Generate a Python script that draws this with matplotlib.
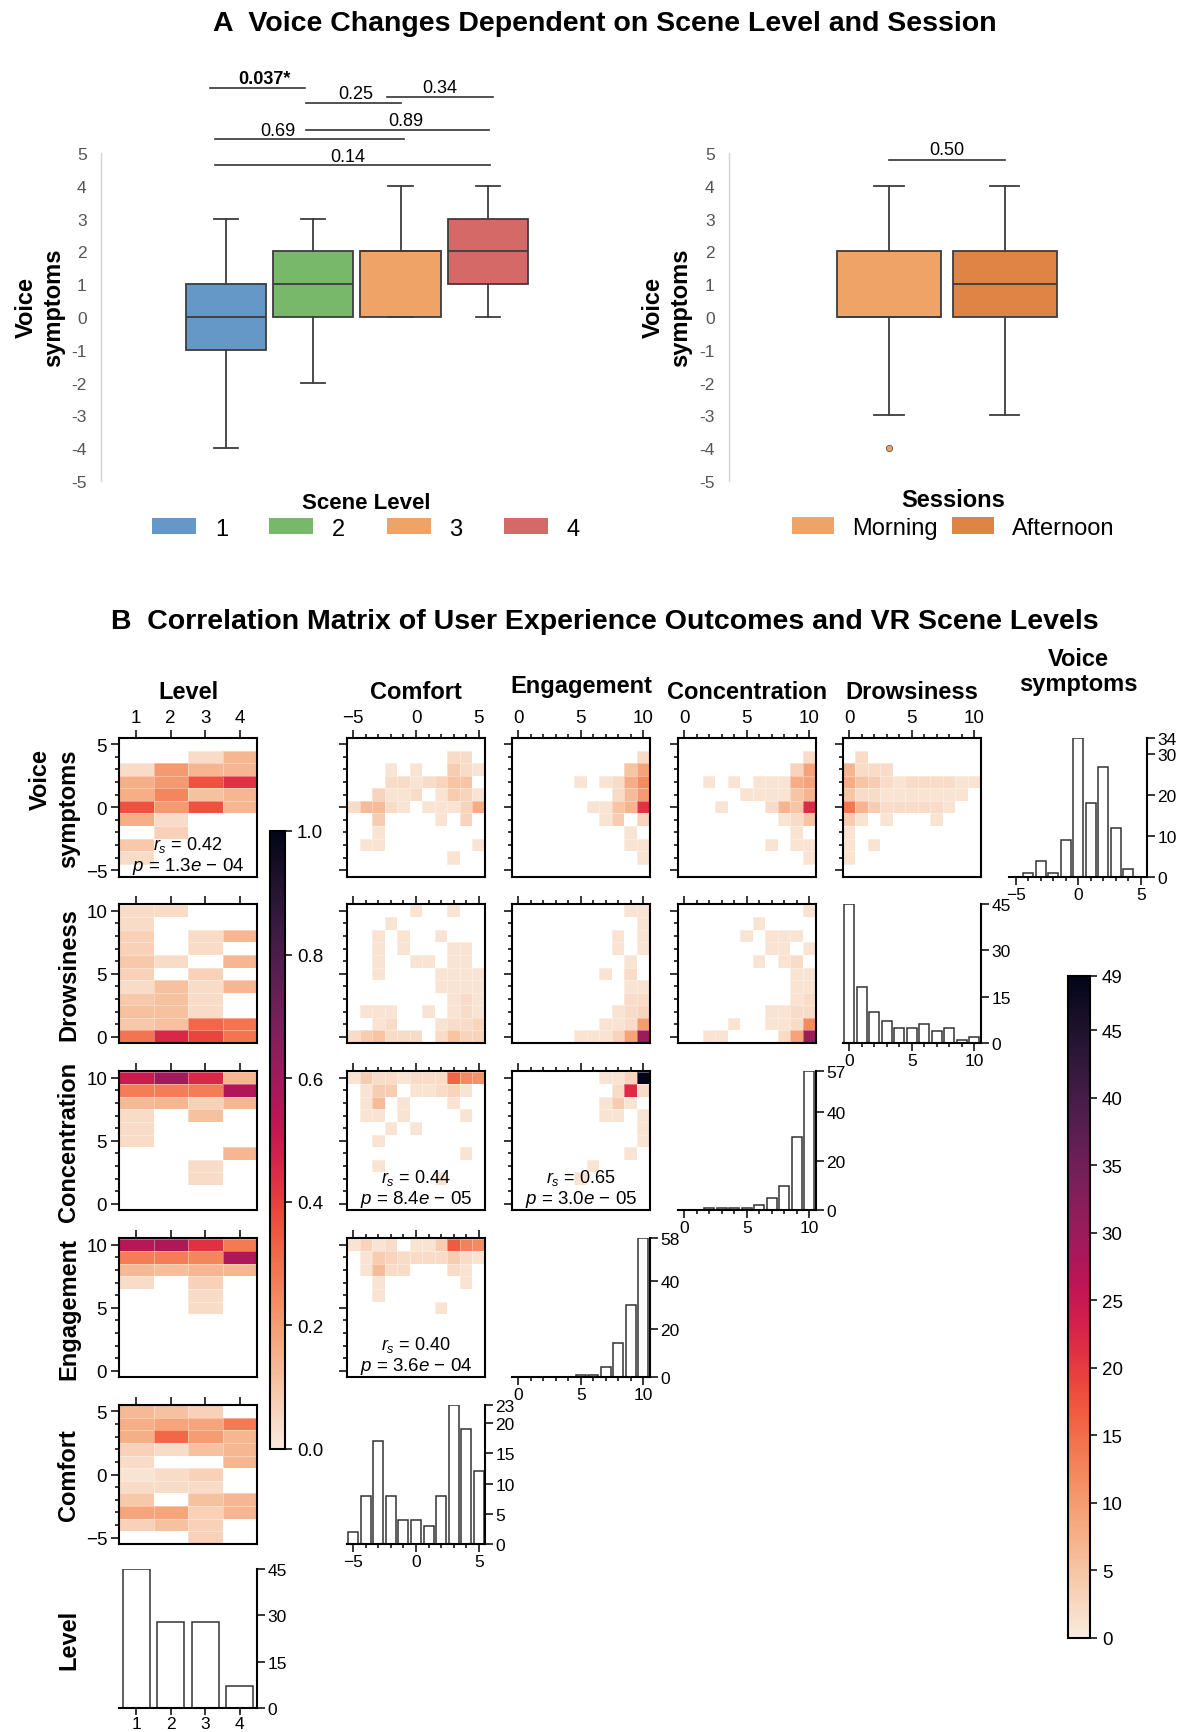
import numpy as np
import matplotlib
matplotlib.use("Agg")
import matplotlib.pyplot as plt
from matplotlib.patches import Patch
from matplotlib.colors import Normalize, LinearSegmentedColormap
from matplotlib.cm import ScalarMappable
from matplotlib.ticker import MultipleLocator, FixedLocator

plt.rcParams['font.family'] = ['Liberation Sans', 'DejaVu Sans']
plt.rcParams['mathtext.fontset'] = 'custom'
plt.rcParams['mathtext.rm'] = 'Liberation Sans'
plt.rcParams['mathtext.it'] = 'Liberation Sans:italic'
plt.rcParams['mathtext.bf'] = 'Liberation Sans:bold'

try:
    import seaborn as sns
    cmap = sns.color_palette("rocket_r", as_cmap=True).copy()
except Exception:
    cmap = LinearSegmentedColormap.from_list(
        "rocket_r", ["#faebdd", "#f6b48e", "#f37651", "#e13342",
                     "#b51a58", "#781f5e", "#3f1b44", "#03051a"])
cmap.set_bad("white")

# ---------------- data: panel A ----------------
level_names = ['1', '2', '3', '4']
level_colors = ['#6598c6', '#78b86a', '#f0a366', '#d56967']
level_whislo = [-4, -2, 0, 0]
level_q1 = [-1, 0, 0, 1]
level_med = [0, 1, 2, 2]
level_q3 = [1, 2, 2, 3]
level_whishi = [3, 3, 4, 4]

session_names = ['Morning', 'Afternoon']
session_colors = ['#f0a366', '#e08446']
session_whislo = [-3, -3]
session_q1 = [0, 0]
session_med = [0, 1]
session_q3 = [2, 2]
session_whishi = [4, 4]
session_fliers = [[-4], []]

level_pvals = ['0.037*', '0.25', '0.34', '0.89', '0.69', '0.14']
level_pbold = [True, False, False, False, False, False]
session_pval = '0.50'

# ---------------- data: panel B ----------------
levels = [1, 2, 3, 4]
voice_rows = [4, 3, 2, 1, 0, -1, -2, -3, -4]
score_rows = [10, 9, 8, 7, 6, 5, 4, 3, 2, 1, 0]
comfort_rows = [5, 4, 3, 2, 1, 0, -1, -2, -3, -4, -5]
score_cols = list(range(0, 11))
comfort_cols = list(range(-5, 6))

# share of each scene level (columns 1..4)
lvl_voice = [
    [0.00, 0.00, 0.04, 0.14],
    [0.04, 0.21, 0.14, 0.14],
    [0.16, 0.21, 0.36, 0.43],
    [0.16, 0.25, 0.11, 0.14],
    [0.36, 0.21, 0.36, 0.14],
    [0.16, 0.04, 0.00, 0.00],
    [0.00, 0.07, 0.00, 0.00],
    [0.09, 0.00, 0.00, 0.00],
    [0.04, 0.00, 0.00, 0.00],
]
lvl_drow = [
    [0.04, 0.04, 0.00, 0.00],
    [0.04, 0.00, 0.00, 0.00],
    [0.07, 0.00, 0.04, 0.14],
    [0.07, 0.00, 0.04, 0.00],
    [0.09, 0.04, 0.00, 0.14],
    [0.07, 0.00, 0.07, 0.00],
    [0.04, 0.11, 0.04, 0.14],
    [0.09, 0.11, 0.04, 0.00],
    [0.11, 0.11, 0.04, 0.00],
    [0.09, 0.11, 0.32, 0.29],
    [0.29, 0.46, 0.39, 0.29],
]
lvl_conc = [
    [0.50, 0.60, 0.46, 0.14],
    [0.27, 0.27, 0.27, 0.57],
    [0.13, 0.14, 0.07, 0.14],
    [0.04, 0.00, 0.11, 0.00],
    [0.04, 0.00, 0.00, 0.00],
    [0.04, 0.00, 0.00, 0.00],
    [0.00, 0.00, 0.00, 0.14],
    [0.00, 0.00, 0.04, 0.00],
    [0.00, 0.00, 0.04, 0.00],
    [0.00, 0.00, 0.00, 0.00],
    [0.00, 0.00, 0.00, 0.00],
]
lvl_eng = [
    [0.55, 0.57, 0.43, 0.28],
    [0.27, 0.27, 0.25, 0.57],
    [0.13, 0.12, 0.14, 0.14],
    [0.04, 0.00, 0.07, 0.00],
    [0.00, 0.00, 0.04, 0.00],
    [0.00, 0.00, 0.04, 0.00],
    [0.00, 0.00, 0.00, 0.00],
    [0.00, 0.00, 0.00, 0.00],
    [0.00, 0.00, 0.00, 0.00],
    [0.00, 0.00, 0.00, 0.00],
    [0.00, 0.00, 0.00, 0.00],
]
lvl_comf = [
    [0.13, 0.11, 0.07, 0.00],
    [0.16, 0.18, 0.18, 0.28],
    [0.16, 0.32, 0.20, 0.14],
    [0.07, 0.04, 0.11, 0.14],
    [0.04, 0.00, 0.00, 0.14],
    [0.02, 0.04, 0.07, 0.00],
    [0.04, 0.04, 0.04, 0.00],
    [0.09, 0.00, 0.11, 0.14],
    [0.18, 0.18, 0.07, 0.14],
    [0.07, 0.11, 0.07, 0.00],
    [0.00, 0.00, 0.07, 0.00],
]

# counts
comf_voice = [
    [0, 0, 0, 0, 0, 0, 0, 0, 2, 2, 0],
    [0, 0, 0, 1, 0, 1, 0, 0, 4, 2, 1],
    [0, 0, 0, 2, 2, 1, 2, 3, 5, 5, 0],
    [0, 0, 3, 1, 1, 2, 0, 1, 4, 3, 1],
    [2, 6, 6, 2, 1, 0, 1, 1, 1, 3, 8],
    [0, 0, 4, 0, 0, 0, 0, 1, 0, 3, 0],
    [0, 0, 1, 0, 0, 0, 0, 0, 0, 0, 0],
    [0, 1, 1, 0, 0, 0, 0, 0, 0, 0, 1],
    [0, 0, 0, 0, 0, 0, 0, 0, 1, 0, 0],
]
eng_voice = [
    [0, 0, 0, 0, 0, 0, 0, 0, 0, 0, 2],
    [0, 0, 0, 0, 0, 0, 0, 0, 0, 5, 9],
    [0, 0, 0, 0, 0, 1, 0, 1, 2, 8, 12],
    [0, 0, 0, 0, 0, 0, 0, 0, 2, 6, 10],
    [0, 0, 0, 0, 0, 0, 1, 1, 5, 7, 21],
    [0, 0, 0, 0, 0, 0, 0, 1, 4, 0, 3],
    [0, 0, 0, 0, 0, 0, 0, 0, 0, 1, 0],
    [0, 0, 0, 0, 0, 0, 0, 0, 0, 1, 1],
    [0, 0, 0, 0, 0, 0, 0, 0, 0, 0, 1],
]
conc_voice = [
    [0, 0, 0, 0, 0, 0, 0, 0, 0, 0, 2],
    [0, 0, 0, 0, 0, 0, 0, 0, 0, 3, 9],
    [0, 0, 1, 0, 1, 0, 1, 1, 1, 8, 9],
    [0, 0, 0, 0, 0, 1, 1, 1, 1, 5, 7],
    [0, 0, 0, 1, 0, 0, 0, 2, 7, 5, 22],
    [0, 0, 0, 0, 0, 0, 0, 0, 1, 2, 5],
    [0, 0, 0, 0, 0, 0, 0, 0, 0, 1, 0],
    [0, 0, 0, 0, 0, 0, 0, 1, 0, 1, 1],
    [0, 0, 0, 0, 0, 0, 0, 0, 0, 0, 1],
]
drow_voice = [
    [0, 2, 0, 0, 0, 0, 0, 0, 0, 0, 0],
    [7, 2, 2, 2, 0, 0, 0, 0, 0, 0, 0],
    [8, 5, 4, 2, 1, 2, 2, 2, 2, 1, 1],
    [5, 2, 2, 1, 1, 1, 1, 1, 1, 1, 0],
    [14, 7, 4, 2, 2, 2, 2, 2, 1, 0, 0],
    [4, 1, 0, 1, 0, 0, 0, 1, 0, 0, 0],
    [1, 0, 0, 0, 0, 0, 0, 0, 0, 0, 0],
    [1, 0, 1, 0, 0, 0, 0, 0, 0, 0, 0],
    [1, 0, 0, 0, 0, 0, 0, 0, 0, 0, 0],
]
comf_drow = [
    [0, 0, 0, 0, 0, 1, 0, 0, 1, 0, 0],
    [0, 0, 0, 1, 0, 0, 0, 0, 0, 0, 0],
    [0, 0, 1, 0, 1, 0, 0, 1, 0, 0, 0],
    [0, 0, 1, 0, 1, 0, 0, 0, 1, 1, 0],
    [0, 0, 1, 0, 0, 1, 1, 0, 1, 1, 0],
    [0, 0, 1, 0, 0, 0, 0, 1, 1, 1, 1],
    [0, 0, 0, 0, 0, 0, 0, 1, 1, 1, 1],
    [0, 0, 0, 0, 0, 0, 0, 0, 1, 2, 1],
    [0, 1, 1, 1, 0, 0, 1, 0, 1, 2, 1],
    [0, 0, 1, 2, 0, 0, 0, 1, 2, 2, 3],
    [2, 4, 5, 2, 2, 2, 0, 2, 5, 3, 3],
]
eng_drow = [
    [0, 0, 0, 0, 0, 0, 0, 0, 0, 1, 1],
    [0, 0, 0, 0, 0, 0, 0, 0, 0, 0, 1],
    [0, 0, 0, 0, 0, 0, 0, 0, 1, 0, 1],
    [0, 0, 0, 0, 0, 0, 0, 0, 1, 0, 1],
    [0, 0, 0, 0, 0, 0, 0, 0, 0, 1, 0],
    [0, 0, 0, 0, 0, 0, 0, 1, 0, 2, 0],
    [0, 0, 0, 0, 0, 0, 0, 0, 0, 1, 1],
    [0, 0, 0, 0, 0, 0, 0, 0, 0, 2, 2],
    [0, 0, 0, 0, 0, 0, 0, 0, 1, 2, 3],
    [0, 0, 0, 0, 0, 0, 0, 1, 1, 2, 10],
    [0, 0, 0, 0, 0, 1, 1, 1, 3, 9, 30],
]
conc_drow = [
    [0, 0, 0, 0, 0, 0, 0, 0, 0, 0, 1],
    [0, 0, 0, 0, 0, 0, 1, 0, 0, 0, 0],
    [0, 0, 0, 0, 0, 1, 0, 1, 1, 1, 0],
    [0, 0, 0, 0, 0, 0, 0, 1, 1, 0, 1],
    [0, 0, 0, 0, 0, 0, 1, 0, 1, 2, 0],
    [0, 0, 0, 0, 0, 0, 0, 0, 0, 1, 1],
    [0, 0, 0, 0, 0, 0, 0, 0, 0, 1, 1],
    [0, 0, 0, 0, 0, 0, 0, 0, 0, 1, 2],
    [0, 0, 0, 0, 0, 0, 0, 1, 1, 2, 2],
    [0, 0, 0, 0, 1, 0, 0, 1, 1, 2, 12],
    [0, 0, 1, 1, 0, 0, 0, 0, 2, 9, 30],
]
comf_conc = [
    [1, 4, 2, 2, 1, 2, 2, 2, 16, 12, 11],
    [0, 1, 4, 4, 0, 1, 1, 2, 3, 1, 0],
    [0, 1, 6, 0, 1, 0, 0, 0, 1, 0, 0],
    [0, 1, 1, 0, 1, 0, 0, 0, 0, 1, 0],
    [0, 0, 0, 1, 0, 1, 0, 0, 0, 0, 0],
    [0, 0, 1, 0, 0, 0, 0, 0, 0, 0, 0],
    [0, 0, 0, 0, 0, 0, 0, 0, 0, 1, 0],
    [0, 0, 1, 0, 0, 0, 0, 0, 0, 0, 0],
    [0, 0, 0, 0, 0, 0, 0, 1, 0, 0, 0],
    [0, 0, 0, 0, 0, 0, 0, 0, 0, 0, 0],
    [0, 0, 0, 0, 0, 0, 0, 0, 0, 0, 0],
]
eng_conc = [
    [0, 0, 0, 0, 0, 0, 0, 1, 1, 3, 49],
    [0, 0, 0, 0, 0, 0, 0, 0, 2, 22, 2],
    [0, 0, 0, 0, 0, 0, 0, 1, 4, 1, 0],
    [0, 0, 0, 0, 0, 0, 0, 1, 1, 0, 1],
    [0, 0, 0, 0, 0, 0, 0, 0, 0, 0, 1],
    [0, 0, 0, 0, 0, 0, 0, 0, 0, 0, 1],
    [0, 0, 0, 0, 0, 0, 0, 0, 0, 1, 0],
    [0, 0, 0, 0, 0, 0, 1, 0, 0, 0, 0],
    [0, 0, 0, 0, 0, 1, 0, 0, 0, 0, 0],
    [0, 0, 0, 0, 0, 0, 0, 0, 0, 0, 0],
    [0, 0, 0, 0, 0, 0, 0, 0, 0, 0, 0],
]
comf_eng = [
    [1, 3, 1, 2, 0, 1, 1, 4, 17, 13, 12],
    [0, 1, 4, 3, 2, 2, 2, 2, 4, 2, 1],
    [0, 1, 6, 2, 2, 0, 0, 0, 2, 1, 0],
    [0, 0, 1, 0, 0, 0, 0, 0, 0, 1, 0],
    [0, 0, 1, 0, 0, 0, 0, 0, 0, 0, 0],
    [0, 0, 0, 0, 0, 0, 0, 1, 0, 0, 0],
    [0, 0, 0, 0, 0, 0, 0, 0, 0, 0, 0],
    [0, 0, 0, 0, 0, 0, 0, 0, 0, 0, 0],
    [0, 0, 0, 0, 0, 0, 0, 0, 0, 0, 0],
    [0, 0, 0, 0, 0, 0, 0, 0, 0, 0, 0],
    [0, 0, 0, 0, 0, 0, 0, 0, 0, 0, 0],
]

# marginal histograms
voice_bins = [-4, -3, -2, -1, 0, 1, 2, 3, 4]
voice_counts = [1, 4, 1, 9, 34, 18, 27, 12, 2]
drow_counts = [45, 18, 10, 7, 5, 5, 6, 4, 5, 1, 2]
conc_counts = [0, 0, 1, 1, 1, 1, 2, 5, 10, 30, 57]
eng_counts = [0, 0, 0, 0, 0, 1, 1, 4, 14, 30, 58]
comf_counts = [2, 8, 17, 8, 4, 4, 3, 8, 23, 19, 12]
level_counts = [45, 28, 28, 7]

# spearman annotations: (row, col, r_s, p mantissa, p exponent)
corr_notes = [(0, 0, '0.42', '1.3', '04'), (2, 1, '0.44', '8.4', '05'),
              (2, 2, '0.65', '3.0', '05'), (3, 1, '0.40', '3.6', '04')]

row_vars = ['Voice', 'Drowsiness', 'Concentration', 'Engagement', 'Comfort', 'Level']
col_vars = ['Level', 'Comfort', 'Engagement', 'Concentration', 'Drowsiness', 'Voice']
var_label = {'Voice': 'Voice\nsymptoms', 'Drowsiness': 'Drowsiness',
             'Concentration': 'Concentration', 'Engagement': 'Engagement',
             'Comfort': 'Comfort', 'Level': 'Level'}

# ---------------- figure ----------------
W, H = 1181, 1733
fig = plt.figure(figsize=(W / 100, H / 100), dpi=100)
fig.patch.set_facecolor('white')


def add_px(left, top, w, h):
    return fig.add_axes([left / W, 1 - (top + h) / H, w / W, h / H])


fig.text(605 / W, 1 - 24 / H, 'A  Voice Changes Dependent on Scene Level and Session',
         ha='center', va='center', fontsize=20.5, weight='bold')
fig.text(605 / W, 1 - 622 / H,
         'B  Correlation Matrix of User Experience Outcomes and VR Scene Levels',
         ha='center', va='center', fontsize=20.5, weight='bold')

EDGE = '#3d3d3d'


def make_stats(lo, q1, med, q3, hi, fl=None):
    return [dict(whislo=lo[i], q1=q1[i], med=med[i], q3=q3[i], whishi=hi[i],
                 fliers=(fl[i] if fl else [])) for i in range(len(lo))]


def style_box_axes(ax, xlim):
    ax.set_xlim(*xlim)
    ax.set_ylim(-5.2, 7.6)
    for s in ['top', 'right', 'bottom']:
        ax.spines[s].set_visible(False)
    ax.spines['left'].set_color('#d4d4d4')
    ax.spines['left'].set_linewidth(1.0)
    ax.spines['left'].set_bounds(-5, 5)
    ax.set_xticks([])
    ticks = list(range(-5, 6))
    ax.set_yticks(ticks)
    ax.set_yticklabels([str(t) for t in ticks])
    ax.tick_params(axis='y', length=0, pad=10, labelsize=12.5, labelcolor='#555555')


box_kw = dict(patch_artist=True, manage_ticks=False,
              boxprops=dict(edgecolor=EDGE, linewidth=1.3),
              medianprops=dict(color=EDGE, linewidth=1.3),
              whiskerprops=dict(color=EDGE, linewidth=1.3),
              capprops=dict(color=EDGE, linewidth=1.3))

# left boxplot
axL = add_px(100.6, 68.7, 531.4, 419.9)
bp = axL.bxp(make_stats(level_whislo, level_q1, level_med, level_q3, level_whishi),
             positions=range(len(level_names)), widths=0.92, capwidths=0.28,
             showfliers=False, **box_kw)
for patch, c in zip(bp['boxes'], level_colors):
    patch.set_facecolor(c)
style_box_axes(axL, (-1.432, 4.648))

sig_lines = [(-0.18, 0.91, 6.98), (0.92, 2.01, 6.53), (1.84, 3.06, 6.70),
             (0.92, 3.01, 5.70), (-0.12, 2.04, 5.42), (-0.12, 3.02, 4.64)]
sig_text = [(0.44, 7.13), (1.49, 6.67), (2.45, 6.85), (2.06, 5.85), (0.60, 5.55), (1.40, 4.77)]
for (x1, x2, y), (tx, ty), lab, b in zip(sig_lines, sig_text, level_pvals, level_pbold):
    axL.plot([x1, x2], [y, y], color='#333333', lw=1.2, clip_on=False)
    axL.text(tx, ty, lab, ha='center', va='baseline', fontsize=13,
             weight='bold' if b else 'normal')

fig.text(40 / W, 1 - 308 / H, 'Voice\nsymptoms', rotation=90, ha='center', va='center',
         fontsize=17, weight='bold', linespacing=1.25)

axL.legend(handles=[Patch(facecolor=c, edgecolor='none') for c in level_colors],
           labels=level_names, title='Scene Level', ncol=4, loc='upper center',
           bbox_to_anchor=(366 / W, 1 - 481 / H), bbox_transform=fig.transFigure,
           frameon=False, fontsize=17, title_fontproperties={'weight': 'bold', 'size': 16},
           handlelength=1.86, handleheight=0.68, handletextpad=0.8, columnspacing=1.75,
           borderpad=0, labelspacing=0.2)

# right boxplot
axR = add_px(728.5, 68.7, 446.5, 419.9)
bp = axR.bxp(make_stats(session_whislo, session_q1, session_med, session_q3,
                        session_whishi, session_fliers),
             positions=range(len(session_names)), widths=0.895, capwidths=0.255,
             showfliers=True,
             flierprops=dict(marker='o', markersize=4.5, markerfacecolor='#f0a366',
                             markeredgecolor='#555555', markeredgewidth=0.6),
             **box_kw)
for patch, c in zip(bp['boxes'], session_colors):
    patch.set_facecolor(c)
style_box_axes(axR, (-1.384, 2.47))
axR.plot([0, 1], [4.80, 4.80], color='#333333', lw=1.2, clip_on=False)
axR.text(0.5, 4.97, session_pval, ha='center', va='baseline', fontsize=13)

fig.text(667 / W, 1 - 308 / H, 'Voice\nsymptoms', rotation=90, ha='center', va='center',
         fontsize=17, weight='bold', linespacing=1.25)

axR.legend(handles=[Patch(facecolor=c, edgecolor='none') for c in session_colors],
           labels=session_names, title='Sessions', ncol=2, loc='upper center',
           bbox_to_anchor=(953 / W, 1 - 477 / H), bbox_transform=fig.transFigure,
           frameon=False, fontsize=17, title_fontproperties={'weight': 'bold', 'size': 17},
           handlelength=1.8, handleheight=0.68, handletextpad=0.75, columnspacing=0.6,
           borderpad=0, labelspacing=0.25)

# ---------------- panel B ----------------
col_left = [119, 347, 512, 678, 843, 1009]
row_top = [739, 905, 1072, 1239, 1406, 1570]
CW, RH = 138, 139

axis_cfg = {
    'Level': dict(lim=(0.5, 4.5), major=[1, 2, 3, 4], minor=False),
    'Comfort': dict(lim=(-5.5, 5.5), major=[-5, 0, 5], minor=True),
    'Voice': dict(lim=(-5.55, 5.5), major=[-5, 0, 5], minor=True),
    'Engagement': dict(lim=(-0.5, 10.55), major=[0, 5, 10], minor=True),
    'Concentration': dict(lim=(-0.5, 10.55), major=[0, 5, 10], minor=True),
    'Drowsiness': dict(lim=(-0.5, 10.55), major=[0, 5, 10], minor=True),
}

heat_cells = {
    (0, 0): (lvl_voice, levels, voice_rows, 1.0),
    (0, 1): (comf_voice, comfort_cols, voice_rows, 49),
    (0, 2): (eng_voice, score_cols, voice_rows, 49),
    (0, 3): (conc_voice, score_cols, voice_rows, 49),
    (0, 4): (drow_voice, score_cols, voice_rows, 49),
    (1, 0): (lvl_drow, levels, score_rows, 1.0),
    (1, 1): (comf_drow, comfort_cols, score_rows, 49),
    (1, 2): (eng_drow, score_cols, score_rows, 49),
    (1, 3): (conc_drow, score_cols, score_rows, 49),
    (2, 0): (lvl_conc, levels, score_rows, 1.0),
    (2, 1): (comf_conc, comfort_cols, score_rows, 49),
    (2, 2): (eng_conc, score_cols, score_rows, 49),
    (3, 0): (lvl_eng, levels, score_rows, 1.0),
    (3, 1): (comf_eng, comfort_cols, score_rows, 49),
    (4, 0): (lvl_comf, levels, comfort_rows, 1.0),
}

hist_cells = {
    (0, 5): (voice_bins, voice_counts, [0, 10, 20, 30, 34]),
    (1, 4): (score_cols, drow_counts, [0, 15, 30, 45]),
    (2, 3): (score_cols, conc_counts, [0, 20, 40, 57]),
    (3, 2): (score_cols, eng_counts, [0, 20, 40, 58]),
    (4, 1): (comfort_cols, comf_counts, [0, 5, 10, 15, 20, 23]),
    (5, 0): (levels, level_counts, [0, 15, 30, 45]),
}

TICK = 13.5
HTICK = 12.5


def set_axis(axis, var):
    cfg = axis_cfg[var]
    axis.set_major_locator(FixedLocator(cfg['major']))
    if cfg['minor']:
        axis.set_minor_locator(MultipleLocator(1))


for (r, c), (mat, xs, ys, vmax) in heat_cells.items():
    ax = add_px(col_left[c], row_top[r], CW, RH)
    z = np.ma.masked_equal(np.asarray(mat, float), 0)
    xe = np.append(np.asarray(xs, float) - 0.5, xs[-1] + 0.5)
    ye = np.append(ys[0] + 0.5, np.asarray(ys, float) - 0.5)
    ax.pcolormesh(xe, ye, z, cmap=cmap, vmin=0, vmax=vmax,
                  edgecolors=(1, 1, 1, 0.35), linewidth=0.6)
    xv, yv = col_vars[c], row_vars[r]
    ax.set_xlim(*axis_cfg[xv]['lim'])
    ax.set_ylim(*axis_cfg[yv]['lim'])
    set_axis(ax.xaxis, xv)
    set_axis(ax.yaxis, yv)
    ax.xaxis.set_ticks_position('top')
    ax.tick_params(which='both', direction='out', width=1.1, labelsize=TICK,
                   top=True, bottom=False, left=True, right=False,
                   labeltop=(r == 0), labelbottom=False, labelleft=(c == 0))
    ax.tick_params(which='major', length=6, pad=2.5)
    ax.tick_params(which='minor', length=3)
    for s in ax.spines.values():
        s.set_linewidth(1.5)

for (r, c), (xs, counts, yt) in hist_cells.items():
    ax = add_px(col_left[c], row_top[r], CW, RH)
    var = col_vars[c]
    ax.bar(xs, counts, width=0.78 if var == 'Level' else 0.8, color='white',
           edgecolor='#333333', linewidth=1.1)
    ax.set_xlim(*axis_cfg[var]['lim'])
    ax.set_ylim(0, yt[-1])
    set_axis(ax.xaxis, var)
    ax.yaxis.tick_right()
    ax.set_yticks(yt)
    for s in ['top', 'left']:
        ax.spines[s].set_visible(False)
    for s in ['bottom', 'right']:
        ax.spines[s].set_linewidth(1.5)
    ax.tick_params(which='both', direction='out', width=1.1, labelsize=HTICK, pad=1.5)
    ax.tick_params(which='major', length=6)
    ax.tick_params(which='minor', length=3)
    if var == 'Level':
        ax.tick_params(axis='x', length=5, pad=0.5)

for r, c, rs, pm, pe in corr_notes:
    cx = (col_left[c] + CW / 2) / W
    fig.text(cx, 1 - (row_top[r] + RH - 33) / H, r'$r_s$ = ' + rs,
             ha='center', va='center', fontsize=13)
    fig.text(cx, 1 - (row_top[r] + RH - 11) / H, r'$p$ = ' + pm + r'$e$ − ' + pe,
             ha='center', va='center', fontsize=13.5)

# column titles and row labels
for c, var in enumerate(col_vars):
    cx = (col_left[c] + CW / 2) / W
    if var == 'Voice':
        fig.text(cx, 1 - 672 / H, var_label[var], ha='center', va='center',
                 fontsize=17, weight='bold', linespacing=1.1)
    else:
        by = 693 if var == 'Engagement' else 699
        fig.text(cx, 1 - by / H, var_label[var], ha='center', va='baseline',
                 fontsize=17, weight='bold')

for r, var in enumerate(row_vars):
    cy = 1 - (row_top[r] + RH / 2) / H
    fig.text(80 / W, cy, var_label[var], rotation=90, ha='right', va='center',
             fontsize=17, weight='bold', linespacing=1.3)

# colorbars
cax1 = add_px(270, 832, 15, 618)
cb1 = fig.colorbar(ScalarMappable(norm=Normalize(0, 1), cmap=cmap), cax=cax1,
                   ticks=[0, 0.2, 0.4, 0.6, 0.8, 1.0], format='%.1f')
cax2 = add_px(1068, 977, 22, 662)
cb2 = fig.colorbar(ScalarMappable(norm=Normalize(0, 49), cmap=cmap), cax=cax2,
                   ticks=[0, 5, 10, 15, 20, 25, 30, 35, 40, 45, 49])
for cb in (cb1, cb2):
    cb.outline.set_linewidth(1.5)
    cb.ax.tick_params(direction='out', length=5, width=1.1, labelsize=TICK)

fig.savefig('out.png', dpi=100)
